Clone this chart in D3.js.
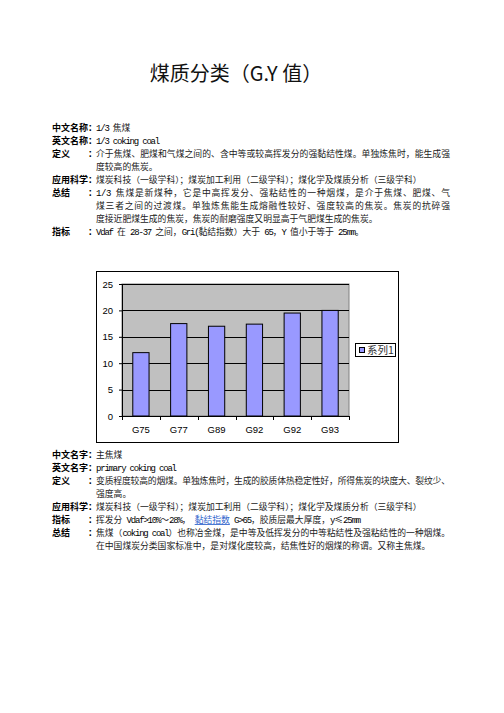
<!DOCTYPE html>
<meta charset="utf-8">
<html>
<head>
<style>
    body { margin: 0; background: #fff; }
    svg { display: block; }
</style>
</head>
<body>
<div id="page"></div>

<script src="https://d3js.org/d3.v7.min.js"></script>
<script>
    // chart data
    const categories = ['G75', 'G77', 'G89', 'G92', 'G92', 'G93'];
    const values = [12, 17.5, 17, 17.4, 19.5, 20];
    const yTicks = [0, 5, 10, 15, 20, 25];
    const seriesName = '系列1';

    // document text (label, content, justified?)
    const section1 = [
        ['中文名称', '1/3 焦煤'],
        ['英文名称', '1/3 coking coal'],
        ['定义', '介于焦煤、肥煤和气煤之间的、含中等或较高挥发分的强黏结性煤。单独炼焦时，能生成强', true],
        ['', '度较高的焦炭。'],
        ['应用科学', '煤炭科技（一级学科）；煤炭加工利用（二级学科）；煤化学及煤质分析（三级学科）'],
        ['总结', '1/3 焦煤是新煤种，它是中高挥发分、强粘结性的一种烟煤，是介于焦煤、肥煤、气', true],
        ['', '煤三者之间的过渡煤。单独炼焦能生成熔融性较好、强度较高的焦炭。焦炭的抗碎强', true],
        ['', '度接近肥煤生成的焦炭，焦炭的耐磨强度又明显高于气肥煤生成的焦炭。'],
        ['指标', 'Vdaf 在 28-37 之间，Gri(黏结指数）大于 65，Y 值小于等于 25mm。']
    ];
    const section2 = [
        ['中文名字', '主焦煤'],
        ['英文名字', 'primary coking coal'],
        ['定义', '变质程度较高的烟煤。单独炼焦时，生成的胶质体热稳定性好，所得焦炭的块度大、裂纹少、', true],
        ['', '强度高。'],
        ['应用科学', '煤炭科技（一级学科）；煤炭加工利用（二级学科）；煤化学及煤质分析（三级学科）'],
        ['指标', ['挥发分 Vdaf>10%～28%， ', {link: '黏结指数'}, ' G>65，胶质层最大厚度，y≤25mm']],
        ['总结', '焦煤（coking coal）也称冶金煤，是中等及低挥发分的中等粘结性及强粘结性的一种烟煤。', true],
        ['', '在中国煤炭分类国家标准中，是对煤化度较高，结焦性好的烟煤的称谓。又称主焦煤。']
    ];

    const W = 504, H = 713;
    const monoFont = '"Liberation Mono", "DejaVu Sans Mono", monospace';
    const cjkFont = '"Noto Sans CJK SC", sans-serif';

    let svg = d3.select('#page').append('svg')
        .attr('width', W)
        .attr('height', H);

    svg.append('rect').attr('width', W).attr('height', H).attr('fill', '#fff');

    // title
    svg.append('text')
        .attr('x', 236)
        .attr('y', 81)
        .attr('text-anchor', 'middle')
        .style('font-family', cjkFont)
        .style('font-size', '20px')
        .attr('fill', '#111')
        .text('煤质分类（G.Y 值）');

    // split a string into ascii / cjk runs, ascii set in a tight mono face
    function addRuns(t, str, fill, deco) {
        str.split(/([\x20-\x7e]+)/).filter(s => s.length).forEach(s => {
            let ascii = /^[\x20-\x7e]+$/.test(s);
            let sp = t.append('tspan')
                .style('font-family', ascii ? monoFont : cjkFont)
                .style('font-size', ascii ? '9px' : '8.8px')
                .style('letter-spacing', ascii ? '-1.2px' : null)
                .style('white-space', 'pre')
                .text(s);
            if (ascii) sp.attr('fill', '#000');
            if (fill) sp.attr('fill', fill);
            if (deco) sp.style('text-decoration', deco);
        });
    }

    // text block
    let labelX = 52, colonX = 88, textX = 96, textRight = 450;
    function drawSection(rows, y0, step) {
        rows.forEach((r, i) => {
            let yy = y0 + i * step;
            if (r[0]) {
                svg.append('text')
                    .attr('x', labelX).attr('y', yy)
                    .style('font-family', cjkFont)
                    .style('font-size', '9px')
                    .style('font-weight', 'bold')
                    .attr('fill', '#000')
                    .text(r[0]);
                svg.append('text')
                    .attr('x', colonX).attr('y', yy)
                    .style('font-family', cjkFont)
                    .style('font-size', '9px')
                    .style('font-weight', 'bold')
                    .attr('fill', '#000')
                    .text('：');
            }
            let t = svg.append('text')
                .attr('x', textX).attr('y', yy)
                .style('white-space', 'pre')
                .attr('fill', '#222');
            if (Array.isArray(r[1])) {
                r[1].forEach(seg => {
                    if (typeof seg === 'string') addRuns(t, seg);
                    else addRuns(t, seg.link, '#3366cc', 'underline');
                });
            } else {
                addRuns(t, r[1]);
            }
            if (r[2]) {
                t.attr('textLength', textRight - textX).attr('lengthAdjust', 'spacing');
            }
        });
    }
    drawSection(section1, 131, 13);
    drawSection(section2, 458, 13);

    // chart
    let plot = {left: 122, right: 349, top: 284, bottom: 416};

    svg.append('rect')
        .attr('x', 96.5).attr('y', 271.5)
        .attr('width', 302).attr('height', 171)
        .attr('fill', '#fff')
        .attr('stroke', '#000')
        .attr('stroke-width', 1);

    let x = d3.scaleBand()
        .domain(d3.range(categories.length))
        .range([plot.left, plot.right])
        .paddingInner(0.57)
        .paddingOuter(0.285);

    let y = d3.scaleLinear()
        .domain([0, 25])
        .range([plot.bottom, plot.top]);

    // plot area
    svg.append('rect')
        .attr('x', plot.left).attr('y', plot.top)
        .attr('width', plot.right - plot.left)
        .attr('height', plot.bottom - plot.top)
        .attr('fill', '#c0c0c0')
        .attr('stroke', '#808080')
        .attr('stroke-width', 1);

    // gridlines
    svg.append('g')
        .selectAll('line')
        .data(yTicks.filter(d => d > 0))
        .enter()
        .append('line')
        .attr('x1', plot.left).attr('x2', plot.right)
        .attr('y1', d => Math.round(y(d)) + 0.5)
        .attr('y2', d => Math.round(y(d)) + 0.5)
        .attr('stroke', '#000')
        .attr('stroke-width', 1);

    // bars
    svg.append('g')
        .selectAll('rect')
        .data(values)
        .enter()
        .append('rect')
        .attr('x', (d, i) => x(i))
        .attr('y', d => y(d))
        .attr('width', x.bandwidth())
        .attr('height', d => plot.bottom - y(d))
        .attr('fill', '#9999ff')
        .attr('stroke', '#000')
        .attr('stroke-width', 1);

    // y axis
    let yAxis = svg.append('g')
        .attr('transform', `translate(${plot.left}, 0)`)
        .call(d3.axisLeft(y).tickValues(yTicks).tickSize(3).tickPadding(6));
    yAxis.select('.domain').attr('stroke', '#000');
    yAxis.selectAll('text')
        .style('font-family', '"Liberation Sans", Arial, sans-serif')
        .style('font-size', '9.5px')
        .attr('fill', '#000');

    // x axis
    let xAxis = svg.append('g')
        .attr('transform', `translate(0, ${plot.bottom})`)
        .call(d3.axisBottom(x).tickSize(0).tickPadding(10).tickFormat(i => categories[i]));
    xAxis.select('.domain').attr('stroke', '#000');
    xAxis.selectAll('text')
        .style('font-family', '"Liberation Sans", Arial, sans-serif')
        .style('font-size', '9.5px')
        .attr('fill', '#000');

    // tick marks between categories
    let bounds = d3.range(categories.length + 1).map(i => plot.left + (x.step() * x.paddingOuter()) - x.step() * x.paddingInner() / 2 + i * x.step());
    svg.append('g')
        .selectAll('line')
        .data(bounds)
        .enter()
        .append('line')
        .attr('x1', d => Math.round(d) + 0.5).attr('x2', d => Math.round(d) + 0.5)
        .attr('y1', plot.bottom).attr('y2', plot.bottom + 4)
        .attr('stroke', '#000');

    // legend
    let legend = svg.append('g');
    legend.append('rect')
        .attr('x', 355.5).attr('y', 343.5)
        .attr('width', 40).attr('height', 13)
        .attr('fill', '#fff')
        .attr('stroke', '#000');
    legend.append('rect')
        .attr('x', 359.5).attr('y', 347.5)
        .attr('width', 5).attr('height', 5)
        .attr('fill', '#9999ff')
        .attr('stroke', '#000');
    legend.append('text')
        .attr('x', 367).attr('y', 354)
        .style('font-family', cjkFont)
        .style('font-size', '10.5px')
        .attr('fill', '#333')
        .text(seriesName);
</script>
</body>
</html>
